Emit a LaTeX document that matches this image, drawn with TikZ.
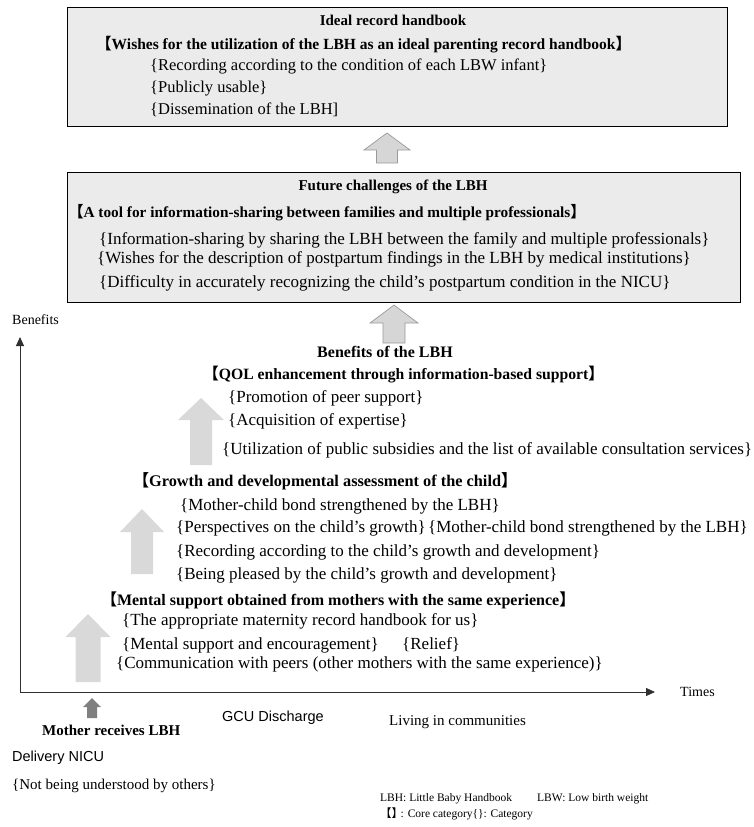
\documentclass[tikz,border=0pt]{standalone}
\usepackage{fontspec}
\setmainfont{Liberation Serif}
\newfontfamily\sansf{Liberation Sans}
\newfontfamily\cjk{Noto Sans CJK JP}
\usetikzlibrary{arrows.meta}
\definecolor{boxfill}{HTML}{EBEBEB}
\definecolor{bigarr}{HTML}{D9D9D9}
\definecolor{outarrfill}{HTML}{D6D6D6}
\definecolor{outarrdraw}{HTML}{9A9A9A}
\definecolor{darkarr}{HTML}{7F7F7F}
\definecolor{axiscol}{HTML}{303030}
\newcommand\lb{\hbox to 0.55em{\hss\cjk 【}}
\newcommand\rb{\hbox to 0.55em{\cjk 】\hss}}
\newcommand\fsz[1]{\fontsize{#1}{#1}\selectfont}
\newcommand\uparr[7]{%
  \path[#1] (#2,#3) -- (#2+#6,#4) -- (#2+#7,#4) -- (#2+#7,#5) -- (#2-#7,#5) -- (#2-#7,#4) -- (#2-#6,#4) -- cycle;}
\tikzset{
  panel/.style={draw=black, line width=0.8pt, fill=boxfill},
  txt/.style={anchor=west, inner sep=0pt, font=\fsz{17}},
  toptxt/.style={anchor=west, inner sep=0pt, font=\fsz{16.5}},
  lowtxt/.style={anchor=west, inner sep=0pt, font=\fsz{15}},
  hd/.style={anchor=west, inner sep=0pt, font=\fsz{#1}\bfseries},
  hd/.default=15,
  ttl/.style={anchor=center, inner sep=0pt, font=\fsz{#1}\bfseries},
  ttl/.default=15,
  axlab/.style={anchor=west, inner sep=0pt, font=\fsz{14}},
  sanslab/.style={anchor=west, inner sep=0pt, font=\fsz{14.5}\sansf},
  legend/.style={anchor=west, inner sep=0pt, font=\fsz{11.5}},
  outarr/.style={draw=outarrdraw, line width=0.7pt, fill=outarrfill},
  bigup/.style={fill=bigarr},
  smallup/.style={fill=darkarr},
  axis/.style={draw=axiscol, line width=0.9pt, -{Triangle[length=9pt,width=8pt]}}
}
\begin{document}
\begin{tikzpicture}[x=1pt,y=-1pt]
\useasboundingbox (0,0) rectangle (753,827);
% top box
\draw[panel] (67,7) rectangle (727,126);
\node[ttl] (t1) at (393,20) {Ideal record handbook};
\node[hd=15.5] (t2) at (103,45) {\lb Wishes for the utilization of the LBH as an ideal parenting record handbook\rb};
\node[toptxt] (t3) at (150,66) {\{Recording according to the condition of each LBW infant\}};
\node[toptxt] (t4) at (150,89) {\{Publicly usable\}};
\node[toptxt] (t5) at (150,110) {\{Dissemination of the LBH]};
% arrow 1
\uparr{outarr}{387}{133}{150}{163}{23}{10.5}
% second box
\draw[panel] (67,172) rectangle (740,302);
\node[ttl] (f1) at (393,187) {Future challenges of the LBH};
\node[hd=15.3] (f2) at (75,213) {\lb A tool for information-sharing between families and multiple professionals\rb};
\node[txt] (f3) at (99,240) {\{Information-sharing by sharing the LBH between the family and multiple professionals\}};
\node[txt] (f4) at (97,259) {\{Wishes for the description of postpartum findings in the LBH by medical institutions\}};
\node[txt] (f5) at (99,283) {\{Difficulty in accurately recognizing the child’s postpartum condition in the NICU\}};
% arrow 2
\uparr{outarr}{394}{305}{323}{343}{24}{11}
% axes
\coordinate (origin) at (20,692);
\coordinate (ytip) at (20,337);
\coordinate (xtip) at (655,692);
\draw[axis] (origin) -- (ytip);
\draw[axis] (origin) -- (xtip);
\node[axlab] (benlab) at (12,320) {Benefits};
\node[axlab] (timelab) at (680,692) {Times};
% benefits
\node[ttl=16] (b1) at (385,352) {Benefits of the LBH};
\node[hd=15.7] (b2) at (210,375) {\lb QOL enhancement through information-based support\rb};
\node[txt] (b3) at (228,398) {\{Promotion of peer support\}};
\node[txt] (b4) at (228,421) {\{Acquisition of expertise\}};
\node[txt] (b5) at (222,450) {\{Utilization of public subsidies and the list of available consultation services\}};
\uparr{bigup}{201}{398}{420}{465}{23}{11}
% growth
\node[hd=16.3] (g1) at (140,481) {\lb Growth and developmental assessment of the child\rb};
\node[txt] (g2) at (180,506) {\{Mother-child bond strengthened by the LBH\}};
\node[txt] (g3) at (176,528) {\{Perspectives on the child’s growth\}};
\node[txt] (g4) at (428,528) {\{Mother-child bond strengthened by the LBH\}};
\node[txt] (g5) at (176,552) {\{Recording according to the child’s growth and development\}};
\node[txt] (g6) at (176,575) {\{Being pleased by the child’s growth and development\}};
\uparr{bigup}{142}{509}{532}{574}{22}{11}
% mental support
\node[hd=16] (m1) at (108,600) {\lb Mental support obtained from mothers with the same experience\rb};
\node[txt] (m2) at (122,621) {\{The appropriate maternity record handbook for us\}};
\node[txt] (m3) at (122,645) {\{Mental support and encouragement\}};
\node[txt] (m4) at (402,645) {\{Relief\}};
\node[txt] (m5) at (116,664) {\{Communication with peers (other mothers with the same experience)\}};
\uparr{bigup}{88}{614}{637}{682}{22.5}{12.5}
% small arrow
\uparr{smallup}{92}{698}{707}{718}{9}{5}
% bottom labels
\node[hd] (mr) at (42,730) {Mother receives LBH};
\node[sanslab] (gcu) at (222,718) {GCU Discharge};
\node[lowtxt] (liv) at (389,722) {Living in communities};
\node[sanslab] (del) at (12,758) {Delivery NICU};
\node[lowtxt] (nbu) at (12,786) {\{Not being understood by others\}};
% legend
\node[legend] (lg1) at (380,799) {LBH: Little Baby Handbook};
\node[legend] (lg2) at (537,799) {LBW: Low birth weight};
\node[legend] (lg3) at (385,814) {\lb\rb\ : Core category\{\}: Category};
\end{tikzpicture}
\end{document}
